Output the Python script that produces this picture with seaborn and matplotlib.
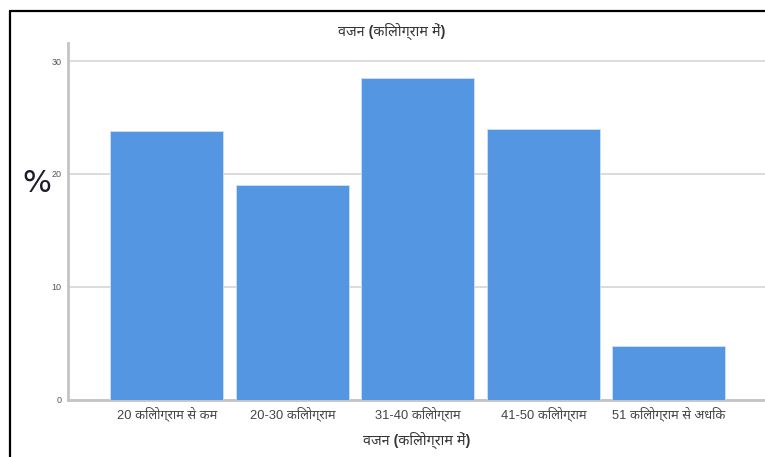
import matplotlib
matplotlib.use("Agg")
import matplotlib.pyplot as plt
from matplotlib import font_manager
from matplotlib.lines import Line2D
import seaborn as sns
import pandas as pd

# Weight classes and their share of respondents (%)
categories = ["20 किलोग्राम से कम", "20-30 किलोग्राम", "31-40 किलोग्राम",
              "41-50 किलोग्राम", "51 किलोग्राम से अधिक"]
percent = [23.8, 19.0, 28.5, 24.0, 4.7]
y_ticks = [0, 10, 20, 30]
title_text = "वजन (किलोग्राम में)"
x_label = "वजन (किलोग्राम में)"
y_label = "%"

sns.set_theme(style="white")

# pick a sans-serif face that covers Devanagari
installed = {f.name for f in font_manager.fontManager.ttflist}
preferred = ["Noto Sans Devanagari", "Hind", "Mukta", "Yantramanav",
             "Martel Sans", "Poppins", "Karma"]
deva = [n for n in preferred if n in installed][:1]
plt.rcParams["font.family"] = ["Liberation Sans"] + deva + ["DejaVu Sans"]

df = pd.DataFrame({"cat": categories, "pct": percent})

fig = plt.figure(figsize=(7.65, 4.57), dpi=100)
ax = fig.add_axes([0.0893, 0.1258, 1 - 0.0893, 0.906 - 0.1258])

sns.barplot(data=df, x="cat", y="pct", color="#5596e3", saturation=1,
            width=0.9, ax=ax, zorder=3)
for p in ax.patches:
    p.set_edgecolor("#cfe0f7")
    p.set_linewidth(0.6)

ax.set_xlim(-0.785, 4.765)
ax.set_ylim(0, 31.6)
ax.set_yticks(y_ticks)
ax.yaxis.grid(True, color="#dcdcdc", linewidth=1.4, zorder=0)
ax.set_axisbelow(True)
for side in ["top", "right"]:
    ax.spines[side].set_visible(False)
for side in ["left", "bottom"]:
    ax.spines[side].set_color("#c4c4c4")
    ax.spines[side].set_linewidth(2)
ax.tick_params(axis="y", length=0, pad=5, labelsize=6.5, labelcolor="#555555")
ax.tick_params(axis="x", length=0, pad=5, labelsize=9.3, labelcolor="#444444")
ax.set_xlabel(x_label, fontsize=10.3, fontweight="bold", color="#333333", labelpad=8)
ax.set_ylabel("")

fig.text(37 / 765, 1 - 183 / 457, y_label, fontsize=22, color="#1c1c2a",
         ha="center", va="center", family="DejaVu Sans")
fig.text(392 / 765, 1 - 31 / 457, title_text, fontsize=10.3, fontweight="bold",
         color="#333333", ha="center", va="center")

# frame around the chart
fig.add_artist(Line2D([10 / 765, 1], [1 - 10.5 / 457] * 2, color="black",
                      linewidth=1.6, transform=fig.transFigure))
fig.add_artist(Line2D([10 / 765] * 2, [0, 1 - 10.5 / 457], color="black",
                      linewidth=1.6, transform=fig.transFigure))

fig.savefig("out.png", dpi=100)
